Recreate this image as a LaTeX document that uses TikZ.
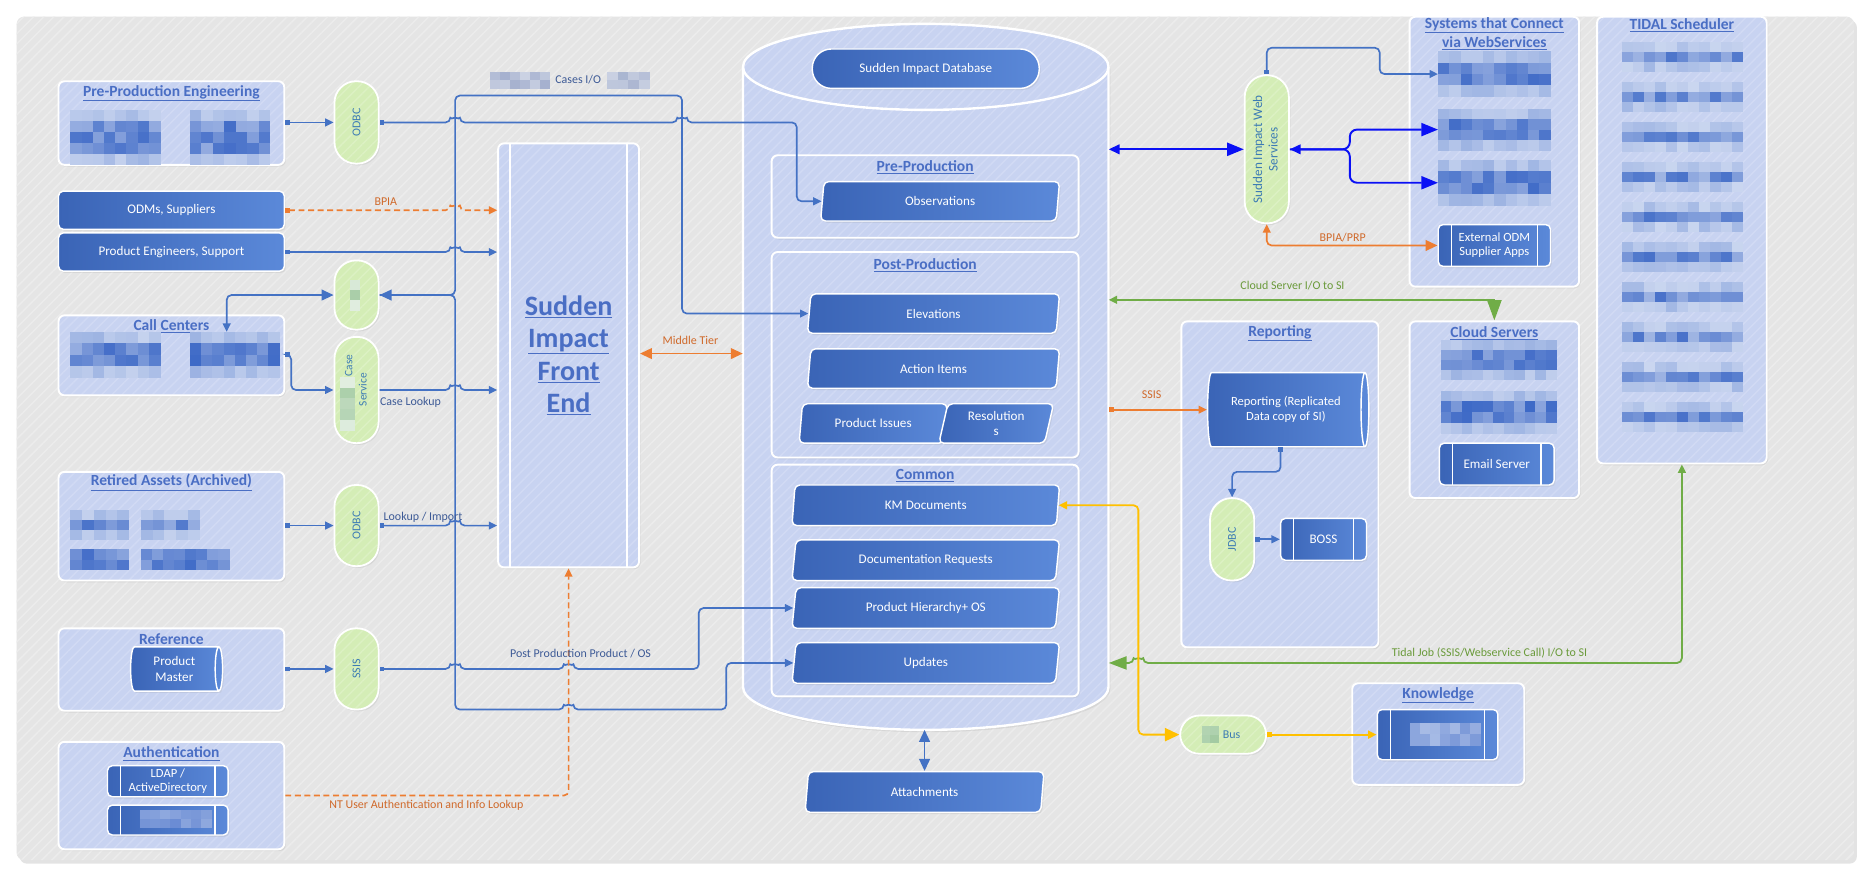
\documentclass[tikz,border=0pt]{standalone}
\usepackage{fontspec}
\setmainfont{Carlito}
\usetikzlibrary{shapes.geometric,arrows.meta,calc,shadows,patterns.meta}

\definecolor{panelc}{HTML}{E5E5E5}
\definecolor{panels}{HTML}{ECECEC}
\definecolor{contc}{HTML}{C8D3F1}
\definecolor{conts}{HTML}{D1DAF4}
\definecolor{dkA}{HTML}{3A64B6}
\definecolor{dkB}{HTML}{5B89D9}
\definecolor{pillc}{HTML}{D4EDB6}
\definecolor{pills}{HTML}{DCF1C3}
\definecolor{ptxt}{HTML}{3C7BB4}
\definecolor{lnb}{HTML}{4472C4}
\definecolor{pblue}{HTML}{0A10F5}
\definecolor{orng}{HTML}{ED7D31}
\definecolor{grn}{HTML}{70AD47}
\definecolor{yel}{HTML}{FFC000}
\definecolor{ttlc}{HTML}{4A6EC4}
\definecolor{lblc}{HTML}{3D5A96}
\definecolor{olblc}{HTML}{D0692A}
\definecolor{glblc}{HTML}{6A9A3A}
\definecolor{blk}{HTML}{3C68C6}
\definecolor{gblk}{HTML}{8E9DC2}
\definecolor{grblk}{HTML}{8FBF8E}

% pixelated (blurred) block: color, x1, y1, x2, y2, min, range
\newcommand\blurblk[7]{%
  \pgfmathtruncatemacro\qnx{max(1,round((#4-#2)/9))}%
  \pgfmathtruncatemacro\qny{max(1,round((#5-#3)/9))}%
  \pgfmathsetmacro\qdx{(#4-#2)/\qnx}%
  \pgfmathsetmacro\qdy{(#5-#3)/\qny}%
  \foreach \qi in {1,...,\qnx}{%
    \foreach \qj in {1,...,\qny}{%
      \pgfmathtruncatemacro\qc{(((\qj==1)||(\qj==\qny))&&(\qny>2)) ? (#6*0.55+#7*0.45*rnd) : (#6+#7*rnd)}%
      \fill[#1!\qc!white] ({#2+(\qi-1)*\qdx},{#3+(\qj-1)*\qdy}) rectangle ++({\qdx+0.4},{\qdy+0.4});
    }%
  }%
}

\begin{document}
\begin{tikzpicture}[x=1pt,y=-1pt,
  font=\fontsize{11}{13}\selectfont,
  every node/.style={inner sep=0pt},
  box/.style args={#1/#2/#3/#4}{at={({(#1+#3)/2},{(#2+#4)/2})},
      minimum width={(#3-#1)*1pt}, minimum height={(#4-#2)*1pt}},
  striped/.style 2 args={preaction={fill=#1}, pattern={Lines[angle=45,distance=6pt,line width=1.2pt]}, pattern color=#2},
  shd/.style={drop shadow={opacity=0.14,shadow xshift=1.2pt,shadow yshift=-1.5pt}},
  cont/.style={shd,striped={contc}{conts},draw=white,line width=1.6pt,rounded corners=5pt},
  dark/.style={draw=white,line width=1.2pt,rounded corners=4pt,left color=dkA,right color=dkB,text=white,align=center,shd},
  dbl/.style={path picture={\draw[white,line width=1.1pt]
      ([xshift=#1]path picture bounding box.north west) -- ([xshift=#1]path picture bounding box.south west)
      ([xshift=-#1]path picture bounding box.north east) -- ([xshift=-#1]path picture bounding box.south east);}},
  proc/.style={dark,dbl=11pt},
  para/.style={dark,trapezium,trapezium left angle=70,trapezium right angle=110,trapezium stretches body,minimum height=33pt},
  cyl/.style={dark,sharp corners,cylinder,shape aspect=0.3},
  pill/.style={shd,striped={pillc}{pills},draw=white,line width=1.5pt,text=ptxt,rounded corners=18pt,font=\fontsize{10}{11.5}\selectfont,align=center},
  ttl/.style={text=ttlc,font=\fontsize{13}{16}\selectfont\bfseries,align=center},
  lbl/.style={text=lblc,font=\fontsize{10}{12}\selectfont},
  olab/.style={text=olblc,font=\fontsize{10}{12}\selectfont},
  glab/.style={text=glblc,font=\fontsize{10}{12}\selectfont},
  conn/.style={draw=lnb,line width=1.4pt,rounded corners=4pt},
  oconn/.style={draw=orng,line width=1.4pt,rounded corners=4pt},
  gconn/.style={draw=grn,line width=1.5pt,rounded corners=4pt},
  yconn/.style={draw=yel,line width=1.5pt,rounded corners=4pt},
  bconn/.style={draw=pblue,line width=1.6pt,rounded corners=6pt},
  odash/.style={dash pattern=on 5pt off 3pt},
  hop/.style 2 args={insert path={-- ({#1-4},#2) arc[start angle=180,end angle=360,radius=4]}},
  tri/.tip={Triangle[length=7pt,width=6.5pt]},
  trib/.tip={Triangle[length=10pt,width=9pt]},
  sqr/.tip={Square[length=4pt,width=4pt]},
  btip/.tip={Triangle[length=14pt,width=11pt]},
  bsm/.tip={Triangle[length=9pt,width=8pt]}
]
\pgfmathsetseed{4242}
\useasboundingbox (0,0) rectangle (1568,738);
\fill[white] (0,0) rectangle (1568,738);
\node[box=14/14/1552/720, drop shadow={opacity=0.22,shadow xshift=2.5pt,shadow yshift=-3pt},
      striped={panelc}{panels}, rounded corners=6pt] (panel) {};

% ---------- containers ----------
\node[cont, box=49/68/238/138] (ppe) {};
\node[cont, box=49/264/238/331] (call) {};
\node[cont, box=49/395/238/486] (retired) {};
\node[cont, box=49/526/238/595] (ref) {};
\node[cont, box=49/621/238/711] (auth) {};
\node[cont, box=1180/14/1322/240] (systems) {};
\node[cont, box=1337/14/1479/388] (tidal) {};
\node[cont, box=989/269/1154/542] (reporting) {};
\node[cont, box=1180/269/1322/417] (cloud) {};
\node[cont, box=1132/572/1276/657] (knowledge) {};

% front end
\node[cont, dbl=10pt, box=417/120/535/475, text=ttlc,
      font=\fontsize{23.5}{27.3}\selectfont\bfseries, align=center] (fe)
      {\underline{Sudden}\\\underline{Impact}\\\underline{Front}\\\underline{End}};

% database cylinder
\path[drop shadow={opacity=0.14,shadow xshift=1.5pt,shadow yshift=-2pt}, striped={contc}{conts}, draw=white, line width=2pt]
  (622,56) -- (622,575) arc[start angle=180,end angle=0,x radius=153,y radius=36]
  -- (928,56) arc[start angle=0,end angle=-180,x radius=153,y radius=36] -- cycle;
\draw[white, line width=2pt] (622,56) arc[start angle=180,end angle=0,x radius=153,y radius=36];
\node[box=622/56/928/575] (db) {};

\node[cont, box=646/130/903/199] (preprod) {};
\node[cont, box=646/211/903/383] (postprod) {};
\node[cont, box=646/389/903/583] (common) {};

% ---------- titles ----------
\node[ttl] (ppeT) at (143.5,78) {\underline{Pre-Production Engineering}};
\node[ttl] (callT) at (143.5,273) {\underline{Call Centers}};
\node[ttl] (retT) at (143.5,404) {\underline{Retired Assets (Archived)}};
\node[ttl] (refT) at (143.5,536) {\underline{Reference}};
\node[ttl] (authT) at (143.5,631) {\underline{Authentication}};
\node[ttl] (preT) at (774.5,140) {\underline{Pre-Production}};
\node[ttl] (postT) at (774.5,222) {\underline{Post-Production}};
\node[ttl] (comT) at (774.5,398.5) {\underline{Common}};
\node[ttl] (sysT) at (1251,28) {\underline{Systems that Connect}\\\underline{via WebServices}};
\node[ttl] (tidT) at (1408,21) {\underline{TIDAL Scheduler}};
\node[ttl] (repT) at (1071.5,279) {\underline{Reporting}};
\node[ttl] (cloT) at (1251,279) {\underline{Cloud Servers}};
\node[ttl] (knoT) at (1204,582) {\underline{Knowledge}};

% ---------- dark boxes ----------
\node[dark, rounded corners=16pt, box=680/41/870/74] (dbname) {Sudden Impact Database};
\node[para, minimum width=200pt] (obs) at (787,168.5) {Observations};
\node[para, minimum width=211pt] (elev) at (781.5,262.5) {Elevations};
\node[para, minimum width=211pt] (action) at (781.5,308.5) {Action Items};
\node[para, minimum width=124pt] (prodiss) at (731,354.5) {Product Issues};
\node[para, minimum width=96pt] (resol) at (834,354.5) {Resolution\\s};
\node[para, minimum width=224pt, minimum height=34pt] (km) at (775,423) {KM Documents};
\node[para, minimum width=224pt, minimum height=34pt] (docreq) at (775,469) {Documentation Requests};
\node[para, minimum width=224pt, minimum height=34pt] (prodhier) at (775,509) {Product Hierarchy+ OS};
\node[para, minimum width=224pt, minimum height=34pt] (updates) at (775,555) {Updates};
\node[para, minimum width=200pt, minimum height=34pt] (attach) at (774,663) {Attachments};

\node[dark, box=49/160/238/192] (odm) {ODMs, Suppliers};
\node[dark, box=49/195/238/227] (pe) {Product Engineers, Support};
\node[cyl, minimum width=37pt, minimum height=77pt] (pm) at (146,560) {Product\\Master};
\node[proc, box=90/641/191/667, font=\fontsize{10.5}{11}\selectfont] (ldap) {LDAP /\\ActiveDirectory};
\node[proc, box=90/674/191/699] (auth2) {};
\node[proc, box=1204/188/1298/223, font=\fontsize{10.5}{12}\selectfont] (extodm) {External ODM\\Supplier Apps};
\node[proc, box=1205/371/1301/406] (email) {Email Server};
\node[proc, box=1072/434/1144/469] (boss) {BOSS};
\node[proc, box=1153/594/1254/636] (knowbox) {};
\node[cyl, minimum width=62pt, minimum height=135pt, font=\fontsize{10.5}{12.5}\selectfont] (repcyl) at (1076.5,343) {Reporting (Replicated\\Data copy of SI)};

% ---------- pills ----------
\node[pill, box=280/68/317/137] (odbc1) {\rotatebox{90}{ODBC}};
\node[pill, box=280/218/317/276] (pillB) {};
\node[pill, box=280/282/317/371, font=\fontsize{9.5}{12}\selectfont] (casesvc) {\rotatebox{90}{\begin{tabular}{@{}l@{}}\hspace*{41pt}Case\\\hspace*{16pt}Service\end{tabular}}};
\node[pill, box=280/406/317/474] (odbc2) {\rotatebox{90}{ODBC}};
\node[pill, box=280/526/317/594] (ssis) {\rotatebox{90}{SSIS}};
\node[pill, box=1042/63/1079/187, font=\fontsize{11}{13}\selectfont] (ws) {\rotatebox{90}{\begin{tabular}{@{}c@{}}Sudden Impact Web\\Services\end{tabular}}};
\node[pill, box=1013/417/1050/486] (jdbc) {\rotatebox{90}{JDBC}};
\node[pill, rounded corners=16pt, box=988/599/1060/631, font=\fontsize{10}{12}\selectfont] (bus) {\hspace*{14pt}Bus};

% ---------- blurred content ----------
\blurblk{blk}{59}{92}{134}{138}{55}{45}
\blurblk{blk}{159}{92}{226}{138}{55}{45}
\blurblk{blk}{59}{278}{134}{316}{55}{45}
\blurblk{blk}{159}{278}{234}{316}{65}{35}
\blurblk{blk}{59}{427}{108}{452}{50}{45}
\blurblk{blk}{118}{427}{167}{452}{50}{45}
\blurblk{blk}{59}{460}{108}{477}{60}{40}
\blurblk{blk}{118}{460}{192}{477}{60}{40}
\blurblk{blk}{1204}{43}{1298}{81}{60}{40}
\blurblk{blk}{1204}{91}{1298}{126}{60}{40}
\blurblk{blk}{1204}{134}{1298}{172}{60}{40}
\blurblk{blk}{1206}{285}{1303}{318}{60}{40}
\blurblk{blk}{1206}{327}{1303}{363}{60}{40}
\foreach \t in {0,...,9}{%
  \pgfmathsetmacro\tya{35+33.5*\t}%
  \pgfmathsetmacro\tyb{\tya+25}%
  \blurblk{blk}{1358}{\tya}{1459}{\tyb}{50}{45}
}
\blurblk{gblk}{410}{60}{460}{74}{40}{40}
\blurblk{gblk}{508}{60}{544}{74}{40}{40}
\blurblk{blk}{117}{678}{177}{693}{55}{25}
\blurblk{blk}{1180}{605}{1239}{624}{45}{25}
\blurblk{grblk}{293}{234}{301}{260}{50}{35}
\blurblk{grblk}{285}{316}{297}{360}{50}{35}
\blurblk{grblk}{1006}{608}{1020}{622}{50}{35}

\node[box=159/278/234/316] (ccB) {};
\node[box=1204/43/1298/81] (sysA) {};
\node[box=1204/91/1298/126] (sysB) {};
\node[box=1204/134/1298/172] (sysC) {};

% ---------- connectors (left) ----------
\draw[conn,sqr-tri] (ppe.east |- odbc1.west) -- (odbc1.west);
\coordinate (k1) at (667,102.5);
\draw[conn,sqr-tri] (odbc1.east) [hop={381}{102.5}] [hop={571}{102.5}] -- (k1) |- (obs.left side);
\coordinate (cj) at (381,247);
\coordinate (ctl) at (381,80);
\coordinate (ctr) at (571,80);
\draw[conn,trib-tri] (pillB.east) -- (cj) -- (ctl) -- (ctr) |- (elev.left side);
\coordinate (cb1) at (608,594);
\draw[conn,-tri] (pillB.east) -- (cj) -- (381,594) [hop={476}{594}] -- (cb1) |- (updates.left side);
\draw[conn,trib-tri] (pillB.west) -| ($(ccB.north west)+(31,0)$);
\draw[conn,sqr-tri] (call.east |- ccB.east) -- ++(5,0) |- (casesvc.west);
\draw[conn,-tri] (casesvc.east) [hop={381}{326.5}] -- (casesvc.east -| fe.west);
\draw[oconn,odash,sqr-tri] (odm.east) [hop={381}{176}] -- (odm.east -| fe.west);
\draw[conn,sqr-tri] (pe.east) [hop={381}{211}] -- (pe.east -| fe.west);
\draw[conn,sqr-tri] (odbc2.west -| retired.east) -- (odbc2.west);
\draw[conn,sqr-tri] (odbc2.east) [hop={381}{440}] -- (odbc2.east -| fe.west);
\draw[conn,sqr-tri] (ssis.west -| ref.east) -- (ssis.west);
\coordinate (k2) at (585,560);
\draw[conn,sqr-tri] (ssis.east) [hop={381}{560}] [hop={476}{560}] -- (k2) |- (prodhier.left side);
\draw[oconn,odash,-tri] (auth.east) -| (fe.south);
\coordinate (mt) at (578,296);
\draw[oconn,trib-trib] (fe.east |- mt) -- (db.west |- mt);

% ---------- connectors (right) ----------
\draw[bconn,bsm-btip] (db.east |- ws.west) -- (ws.west);
\coordinate (bj) at (1130,125);
\draw[bconn,bsm-btip] (ws.east) -- (bj) |- (sysB.west);
\draw[bconn,-btip] (ws.east) -- (bj) |- (sysC.west);
\coordinate (wt) at (1155,40);
\draw[conn,sqr-tri] (ws.north) |- (wt) |- (sysA.west);
\draw[oconn,tri-trib] (ws.south) |- (extodm.west);
\coordinate (cly) at (1251,251);
\draw[gconn,sharp corners,tri-{Triangle[length=17pt,width=12pt]}] (db.east |- cly) -- (cly) -- (cloud.north);
\draw[oconn,sqr-tri] (db.east |- repcyl.west) -- (repcyl.west);
\coordinate (rj) at (1072,395);
\draw[conn,sqr-tri] (repcyl.south -| rj) -- (rj) -| (jdbc.north);
\draw[conn,sqr-tri] (jdbc.east) -- (jdbc.east -| boss.west);
\coordinate (tdy) at (1408,555);
\draw[gconn,{Triangle[length=15pt,width=11pt]}-tri] (db.east |- tdy) [hop={953}{555}] -- (tdy) -- (tidal.south);
\coordinate (yk) at (953,423);
\draw[yconn,tri-{Triangle[length=12pt,width=11pt]}] (km.right side) -- (yk) |- (bus.west);
\draw[yconn,sqr-tri] (bus.east) -- (knowbox.west);
\coordinate (dbbot) at (775,611);
\draw[conn,trib-trib] (attach.north |- dbbot) -- (attach.north);

% ---------- labels ----------
\node[olab] (lbpia) at (323,169) {BPIA};
\node[lbl,anchor=west] (lcase) at (318,337) {Case Lookup};
\node[lbl,anchor=west] (llook) at (321,433) {Lookup / Import};
\node[lbl] (lpp) at (486,547) {Post Production Product / OS};
\node[olab] (lnt) at (357,674) {NT User Authentication and Info Lookup};
\node[olab] (lmt) at (578,285) {Middle Tier};
\node[lbl] (lcio) at (484,67) {Cases I/O};
\node[olab] (lbp) at (1124,199) {BPIA/PRP};
\node[glab] (lcs) at (1082,239) {Cloud Server I/O to SI};
\node[olab] (lssis) at (964,330) {SSIS};
\node[glab] (ltj) at (1247,547) {Tidal Job (SSIS/Webservice Call) I/O to SI};
\end{tikzpicture}
\end{document}
